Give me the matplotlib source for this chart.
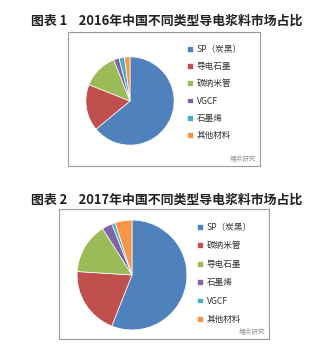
import matplotlib.pyplot as plt
from matplotlib.patches import Rectangle

plt.rcParams['font.family'] = ['Noto Sans CJK SC', 'DejaVu Sans']

# 2016 market shares (%)
labels_2016 = ['SP（炭黑）', '导电石墨', '碳纳米管', 'VGCF', '石墨烯', '其他材料']
share_2016 = [64, 17, 13, 2, 2, 2]
# 2017 market shares (%)
labels_2017 = ['SP（炭黑）', '碳纳米管', '导电石墨', '石墨烯', 'VGCF', '其他材料']
share_2017 = [56, 20, 15, 3, 1, 5]

colors = ['#4F81BD', '#C0504D', '#9BBB59', '#8064A2', '#4BACC6', '#F79646']

W, H = 334, 351
fig = plt.figure(figsize=(W / 100, H / 100), dpi=100)
fig.patch.set_facecolor('white')

def px(x, y, w=0, h=0):
    # pixel box (top-left origin) -> figure fraction rect
    return [x / W, 1 - (y + h) / H, w / W, h / H]

def panel(title, y_title, box, pie_box, leg_xy, spacing, labels, values):
    fig.text(0.5, 1 - y_title / H, title, ha='center', va='center',
             fontsize=9.3, fontweight='bold', color='#222222')
    bx, by, bw, bh = box
    r = Rectangle((bx / W, 1 - (by + bh) / H), bw / W, bh / H,
                  transform=fig.transFigure, fill=False,
                  edgecolor='#9a9a9a', linewidth=0.8)
    fig.patches.append(r)
    ax = fig.add_axes(px(*pie_box))
    wedges, _ = ax.pie(values, colors=colors, startangle=90, counterclock=False,
                       radius=1, wedgeprops=dict(edgecolor='white', linewidth=0.5))
    ax.set_xlim(-1.02, 1.02)
    ax.set_ylim(-1.02, 1.02)
    ax.set_aspect('equal')
    ax.axis('off')
    fig.legend(wedges, labels, loc='upper left',
               bbox_to_anchor=(leg_xy[0] / W, 1 - leg_xy[1] / H),
               frameon=False, fontsize=6.2, handlelength=0.65, handleheight=0.65,
               handletextpad=0.5, labelspacing=spacing, borderpad=0,
               borderaxespad=0, labelcolor='#333333')
    fig.text((bx + bw - 4) / W, 1 - (by + bh - 7) / H, '掘点研究',
             ha='right', va='center', fontsize=4.8, color='#999999')

panel('图表 1    2016年中国不同类型导电浆料市场占比', 21,
      (68, 32, 192, 134), (85, 56, 90, 90), (187, 45), 0.95,
      labels_2016, share_2016)
panel('图表 2    2017年中国不同类型导电浆料市场占比', 200,
      (59, 209, 210, 130), (76, 219, 112, 112), (197, 223), 1.09,
      labels_2017, share_2017)

fig.savefig('out.png', dpi=100)
